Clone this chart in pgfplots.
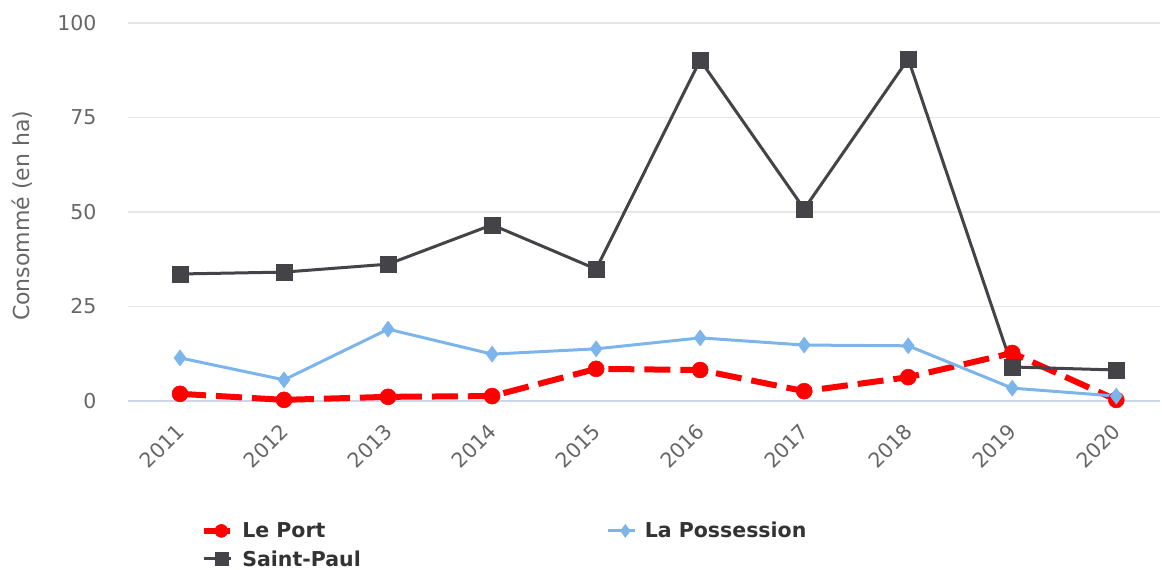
\documentclass[border=0pt]{standalone}
\usepackage{fontspec}
\setmainfont{DejaVu Sans}
\usepackage{pgfplots}
\pgfplotsset{compat=1.18}

\definecolor{portred}{HTML}{FF0000}
\definecolor{possblue}{HTML}{7CB5EC}
\definecolor{pauldark}{HTML}{434348}
\definecolor{gridgray}{HTML}{E6E6E6}
\definecolor{axisblue}{HTML}{CCD6EB}
\definecolor{ticktxt}{HTML}{666666}

\begin{document}
\begin{tikzpicture}
% page = 1162 x 570 px, 1px = 1pt
\useasboundingbox (0,0) rectangle (1162pt,570pt);
\begin{axis}[
    at={(128pt,169pt)}, anchor=south west,
    scale only axis,
    width=1032pt, height=378pt,
    xmin=2010.5, xmax=2020.42,
    ymin=0, ymax=100,
    ytick={0,25,50,75,100},
    xtick={2011,...,2020},
    /pgf/number format/1000 sep={},
    /pgf/number format/assume math mode=true,
    axis line style={draw=none},
    axis x line*=bottom,
    x axis line style={draw=axisblue, line width=1.5pt},
    ymajorgrids,
    grid style={gridgray, line width=1.5pt},
    major tick length=0pt,
    tick style={draw=none},
    clip=false,
    ticklabel style={font=\fontsize{20.5}{24}\selectfont, text=ticktxt},
    yticklabel style={anchor=east, xshift=-28pt},
    xticklabel style={xshift=3pt, yshift=-24pt, rotate=45, anchor=east},
    ylabel={Consommé (en ha)},
    ylabel style={font=\fontsize{22}{26}\selectfont, text=ticktxt,
        at={(axis description cs:-0.103,0.49)}, anchor=center},
    legend columns=2,
    legend style={at={(axis description cs:0.068,-0.31)}, anchor=north west,
        draw=none, fill=none, font=\bfseries\fontsize{20.5}{24}\selectfont,
        text=black!80, row sep=7pt,
        /tikz/every odd column/.append style={column sep=6pt},
        /tikz/every even column/.append style={column sep=244pt}},
    legend cell align=left,
    legend image code/.code={%
        \draw[#1, mark=none] (0pt,0pt) -- (27pt,0pt);
        \draw[#1, solid, mark size=6.5pt] plot coordinates {(17pt,0pt)};},
]
\addplot[portred, line width=6pt, dash pattern=on 26pt off 10pt,
    mark=*, mark size=8pt, mark options={solid, line width=0.5pt}]
    coordinates {(2011,1.9) (2012,0.3) (2013,1.1) (2014,1.3) (2015,8.5)
                 (2016,8.2) (2017,2.6) (2018,6.3) (2019,12.7) (2020,0.3)};
\addlegendentry{Le Port}
\addplot[possblue, line width=3pt,
    mark=diamond*, mark size=8pt, mark options={solid, line width=0.5pt}]
    coordinates {(2011,11.4) (2012,5.6) (2013,19.0) (2014,12.4) (2015,13.8)
                 (2016,16.7) (2017,14.8) (2018,14.6) (2019,3.4) (2020,1.3)};
\addlegendentry{La Possession}
\addplot[pauldark, line width=3pt,
    mark=square*, mark size=8pt, mark options={solid, line width=0.5pt}]
    coordinates {(2011,33.6) (2012,34.1) (2013,36.2) (2014,46.6) (2015,34.9)
                 (2016,90.2) (2017,50.8) (2018,90.5) (2019,9.0) (2020,8.2)};
\addlegendentry{Saint-Paul}
\end{axis}
\end{tikzpicture}
\end{document}
